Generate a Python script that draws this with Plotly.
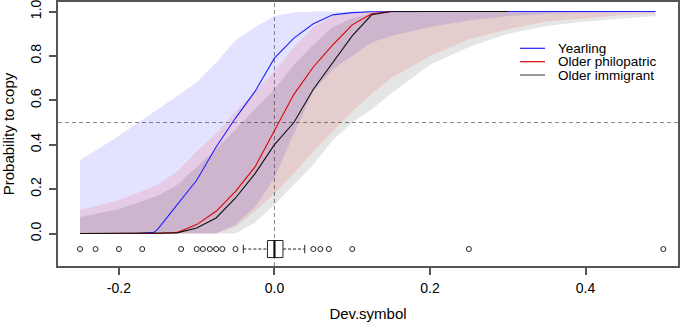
import plotly.graph_objects as go

# ---------------- data ----------------
# fitted curves (probability to copy vs Dev.symbol)
x_line = [-0.25, -0.2, -0.175, -0.155, -0.15, -0.125, -0.1, -0.075, -0.05, -0.025, 0.0,
          0.025, 0.05, 0.075, 0.1, 0.125, 0.15, 0.2, 0.25, 0.3]
x_line_yearling = x_line + [0.35, 0.4, 0.45, 0.49]

yearling = [0.0, 0.0, 0.0, 0.005, 0.02, 0.13, 0.24, 0.39, 0.52, 0.64, 0.79,
            0.88, 0.945, 0.985, 0.995, 0.999, 1.0, 1.0, 1.0, 1.0, 1.0, 1.0, 1.0, 1.0]
philopatric = [0.0, 0.0, 0.0, 0.0, 0.0, 0.005, 0.04, 0.10, 0.19, 0.30, 0.46,
               0.627, 0.75, 0.85, 0.94, 0.99, 1.0, 1.0, 1.0, 1.0]
immigrant = [0.0, 0.0, 0.0, 0.0, 0.0, 0.003, 0.025, 0.07, 0.16, 0.27, 0.40,
             0.50, 0.65, 0.77, 0.89, 0.985, 1.0, 1.0, 1.0, 1.0]

# confidence bands
x_band = [-0.25, -0.2, -0.15, -0.125, -0.1, -0.075, -0.05, -0.025, 0.0, 0.025, 0.05,
          0.075, 0.1, 0.125, 0.15, 0.2, 0.25, 0.3, 0.35, 0.4, 0.45, 0.49]
yearling_lo = [0.0, 0.0, 0.0, 0.0, 0.0, 0.0, 0.04, 0.12, 0.25, 0.45, 0.64,
               0.74, 0.80, 0.86, 0.89, 0.93, 0.96, 0.98, 0.99, 0.995, 0.998, 1.0]
yearling_hi = [0.33, 0.44, 0.56, 0.62, 0.68, 0.77, 0.87, 0.93, 0.98, 0.995, 1.0,
               1.0, 1.0, 1.0, 1.0, 1.0, 1.0, 1.0, 1.0, 1.0, 1.0, 1.0]
philopatric_lo = [0.0, 0.0, 0.0, 0.0, 0.0, 0.0, 0.03, 0.10, 0.18, 0.27, 0.37,
                  0.46, 0.55, 0.63, 0.70, 0.80, 0.875, 0.92, 0.955, 0.97, 0.985, 0.99]
philopatric_hi = [0.106, 0.15, 0.22, 0.28, 0.37, 0.45, 0.55, 0.64, 0.73, 0.84, 0.93,
                  0.98, 0.995, 1.0, 1.0, 1.0, 1.0, 1.0, 1.0, 1.0, 1.0, 1.0]
immigrant_lo = [0.0, 0.0, 0.0, 0.0, 0.0, 0.0, 0.0, 0.05, 0.13, 0.22, 0.31,
                0.42, 0.50, 0.56, 0.63, 0.76, 0.84, 0.90, 0.935, 0.955, 0.97, 0.98]
immigrant_hi = [0.074, 0.11, 0.17, 0.22, 0.30, 0.38, 0.47, 0.56, 0.65, 0.76, 0.85,
                0.93, 0.97, 0.99, 0.995, 1.0, 1.0, 1.0, 1.0, 1.0, 1.0, 1.0]

# boxplot of Dev.symbol
box_q1, box_median, box_q3 = -0.009, 0.0, 0.011
box_whisker_lo, box_whisker_hi = -0.04, 0.039
box_outliers = [-0.25, -0.23, -0.2, -0.17, -0.12, -0.1, -0.092, -0.083, -0.075, -0.067,
                -0.05, 0.05, 0.059, 0.07, 0.1, 0.25, 0.5]

series_names = ["Yearling", "Older philopatric", "Older immigrant"]
x_ticks = [-0.2, 0.0, 0.2, 0.4]
x_ticktext = ["-0.2", "0.0", "0.2", "0.4"]
y_ticks = [0.0, 0.2, 0.4, 0.6, 0.8, 1.0]
y_ticktext = ["0.0", "0.2", "0.4", "0.6", "0.8", "1.0"]
h_ref, v_ref = 0.5, 0.0

# ---------------- style ----------------
FONT = "Liberation Sans, Arial, sans-serif"
AXC = "#555555"
BOX_Y = -0.07       # vertical position of boxplot
BOX_H = 0.0385      # half height of box
STAPLE_H = 0.019

fig = go.Figure()

bands = [
    (yearling_lo, yearling_hi, "rgba(0,0,255,0.11)"),
    (philopatric_lo, philopatric_hi, "rgba(255,0,0,0.10)"),
    (immigrant_lo, immigrant_hi, "rgba(0,0,0,0.10)"),
]
for lo, hi, col in bands:
    fig.add_trace(go.Scatter(x=x_band, y=lo, mode="lines", line=dict(width=0),
                             showlegend=False, hoverinfo="skip"))
    fig.add_trace(go.Scatter(x=x_band, y=hi, mode="lines", line=dict(width=0),
                             fill="tonexty", fillcolor=col, showlegend=False,
                             hoverinfo="skip"))

fig.add_trace(go.Scatter(x=x_line_yearling, y=yearling, mode="lines",
                         line=dict(color="#2020FF", width=1.1), name=series_names[0],
                         showlegend=False))
fig.add_trace(go.Scatter(x=x_line, y=philopatric, mode="lines",
                         line=dict(color="#E00000", width=1.1), name=series_names[1],
                         showlegend=False))
fig.add_trace(go.Scatter(x=x_line, y=immigrant, mode="lines",
                         line=dict(color="#111111", width=1.1), name=series_names[2],
                         showlegend=False))

# reference lines
fig.add_shape(type="line", xref="paper", x0=0, x1=1, yref="y", y0=h_ref, y1=h_ref,
              line=dict(color="#8a8a8a", width=1, dash="4px,3px"), layer="below")
fig.add_shape(type="line", xref="x", x0=v_ref, x1=v_ref, yref="paper", y0=0, y1=1,
              line=dict(color="#8a8a8a", width=1, dash="4px,3px"), layer="below")

# boxplot
fig.add_trace(go.Scatter(x=[box_whisker_lo, box_q1, None, box_q3, box_whisker_hi],
                         y=[BOX_Y, BOX_Y, None, BOX_Y, BOX_Y], mode="lines",
                         line=dict(color="#222222", width=1, dash="3px,2px"),
                         showlegend=False, hoverinfo="skip"))
fig.add_trace(go.Scatter(x=[box_whisker_lo, box_whisker_lo, None, box_whisker_hi, box_whisker_hi],
                         y=[BOX_Y - STAPLE_H, BOX_Y + STAPLE_H, None, BOX_Y - STAPLE_H, BOX_Y + STAPLE_H],
                         mode="lines", line=dict(color="#222222", width=1),
                         showlegend=False, hoverinfo="skip"))
fig.add_trace(go.Scatter(x=[box_q1, box_q3, box_q3, box_q1, box_q1],
                         y=[BOX_Y - BOX_H, BOX_Y - BOX_H, BOX_Y + BOX_H, BOX_Y + BOX_H, BOX_Y - BOX_H],
                         mode="lines", fill="toself", fillcolor="white",
                         line=dict(color="#222222", width=1),
                         showlegend=False, hoverinfo="skip"))
fig.add_trace(go.Scatter(x=[box_median, box_median], y=[BOX_Y - BOX_H, BOX_Y + BOX_H],
                         mode="lines", line=dict(color="#111111", width=2.2),
                         showlegend=False, hoverinfo="skip"))
fig.add_trace(go.Scatter(x=box_outliers, y=[BOX_Y] * len(box_outliers), mode="markers",
                         marker=dict(symbol="circle-open", size=5, color="#222222",
                                     line=dict(width=1)),
                         showlegend=False, hoverinfo="skip"))

# manual legend (R style)
L, R, T, B = 58, 678, 2, 266
def px(xp):
    return (xp - L) / (R - L)
def py(yp):
    return (B - yp) / (B - T)
leg_cols = ["#2020FF", "#E00000", "#555555"]
leg_y = [48.3, 61.7, 75.0]
for name, col, yy in zip(series_names, leg_cols, leg_y):
    fig.add_shape(type="line", xref="paper", yref="paper", x0=px(520), x1=px(545),
                  y0=py(yy), y1=py(yy), line=dict(color=col, width=1.2))
    fig.add_annotation(xref="paper", yref="paper", x=px(557), y=py(yy), text=name,
                       showarrow=False, xanchor="left", yanchor="middle",
                       font=dict(family=FONT, size=13.5, color="black"),
                       borderpad=0)

fig.update_layout(
    width=680, height=324,
    margin=dict(l=L, r=680 - R, t=T, b=324 - B, autoexpand=False),
    paper_bgcolor="white", plot_bgcolor="white",
    font=dict(family=FONT, size=14, color="black"),
    showlegend=False,
)
fig.update_xaxes(range=[-0.2783, 0.5189], tickvals=x_ticks, ticktext=x_ticktext,
                 ticks="outside", ticklen=7, tickwidth=1.5, tickcolor=AXC,
                 showline=True, mirror=True, linecolor=AXC, linewidth=1.5,
                 showgrid=False, zeroline=False, tickfont=dict(size=14),
                 ticklabelstandoff=1, automargin=False, ticklabeloverflow="allow",
                 title=dict(text="Dev.symbol", font=dict(size=15), standoff=14))
fig.update_yaxes(range=[-0.1464, 1.0428], tickvals=y_ticks, ticktext=y_ticktext,
                 ticks="outside", ticklen=7, tickwidth=1.5, tickcolor=AXC,
                 showline=True, mirror=True, linecolor=AXC, linewidth=1.5,
                 showgrid=False, zeroline=False, tickangle=-90, tickfont=dict(size=14),
                 ticklabelstandoff=3, automargin=False, ticklabeloverflow="allow",
                 title=dict(text="Probability to copy", font=dict(size=15), standoff=17))

fig.write_html("out.html", config={"displayModeBar": False},
               post_script="document.body.style.margin='0';document.body.style.padding='0';")
